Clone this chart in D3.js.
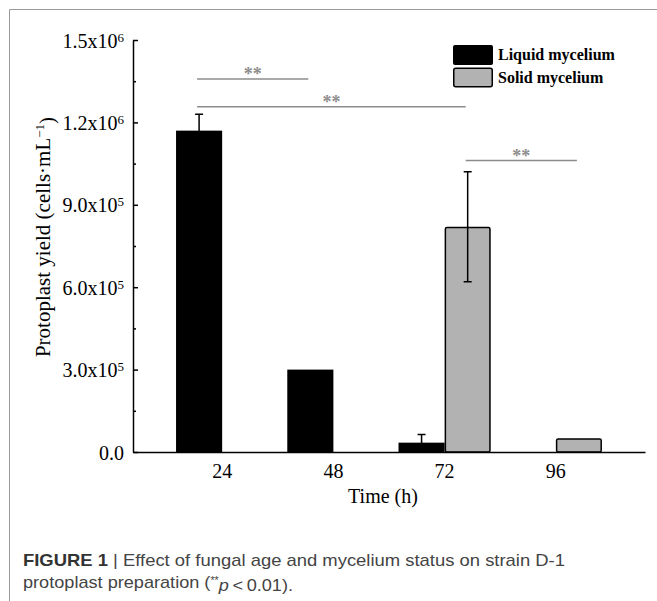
<!DOCTYPE html>
<html>
<head>
<meta charset="utf-8">
<script src="https://cdn.jsdelivr.net/npm/d3@7"></script>
<style>
  body { margin: 0; background: #fff; }
  svg { display: block; }
</style>
</head>
<body>
<svg id="chart"></svg>
<script>
// data
let times = ['24', '48', '72', '96'];
let seriesNames = ['Liquid mycelium', 'Solid mycelium'];
let liquidYield = [1.17e6, 3.0e5, 3.4e4, 0];
let liquidErr = [6.0e4, 0, 3.0e4, 0];
let solidYield = [0, 0, 8.2e5, 5.0e4];
let solidErr = [0, 0, 2.0e5, 0];
let yTicks = [0, 3e5, 6e5, 9e5, 1.2e6, 1.5e6];
let yTickLabels = [['0.0', ''], ['3.0x10', '5'], ['6.0x10', '5'], ['9.0x10', '5'], ['1.2x10', '6'], ['1.5x10', '6']];
// significance brackets: [from time, from series, to time, to series, height]
let sigPairs = [
    ['24', 0, '48', 0, 1.358e6],
    ['24', 0, '72', 1, 1.257e6],
    ['72', 1, '96', 1, 1.061e6]
];

let width = 657, height = 601;
let margin = {top: 40, right: 12, bottom: 149, left: 133};
let serif = '"Liberation Serif", "Times New Roman", serif';

let svg = d3.select('#chart').attr('width', width).attr('height', height);
svg.append('rect').attr('width', width).attr('height', height).style('fill', '#fff');

// frame of the figure panel
svg.append('path').attr('d', 'M9.5,' + height + 'V9.5H' + width)
    .style('fill', 'none').style('stroke', '#9a9a9a').style('stroke-width', 1);

let plotW = width - margin.left - margin.right;
let plotH = height - margin.top - margin.bottom;

let chartData = [];
times.forEach((t, i) => {
    chartData.push({time: t, series: 0, value: liquidYield[i], err: liquidErr[i]});
    chartData.push({time: t, series: 1, value: solidYield[i], err: solidErr[i]});
});

// scales
let xScale = d3.scaleBand().domain(times).range([0, plotW]).paddingInner(0.171).paddingOuter(0.387);
let xSub = d3.scaleBand().domain([0, 1]).range([0, xScale.bandwidth()]);
let yScale = d3.scaleLinear().domain([0, 1.5e6]).range([plotH, 0]);

let g = svg.append('g').attr('transform', 'translate(' + margin.left + ',' + margin.top + ')');

// bars
g.selectAll('.bar').data(chartData.filter(d => d.value > 0)).enter().append('rect')
    .attr('class', 'bar')
    .attr('x', d => xScale(d.time) + xSub(d.series) + (d.series ? 0.75 : 0))
    .attr('y', d => yScale(d.value) + (d.series ? 0.75 : 0))
    .attr('width', d => xSub.bandwidth() - (d.series ? 1.5 : 0))
    .attr('height', d => plotH - yScale(d.value) - (d.series ? 0.75 : 0))
    .attr('rx', d => d.series ? 1.5 : 0)
    .style('fill', d => d.series ? '#b2b2b2' : '#000')
    .style('stroke', d => d.series ? '#000' : 'none')
    .style('stroke-width', 1.5);

// error bars
let errData = chartData.filter(d => d.err > 0);
let cx = d => xScale(d.time) + xSub(d.series) + xSub.bandwidth() / 2;
g.selectAll('.err').data(errData).enter().append('path')
    .attr('class', 'err')
    .attr('d', d => {
        let x = cx(d), y1 = yScale(d.value + d.err), y0 = yScale(Math.max(0, d.value - d.err));
        return 'M' + x + ',' + y0 + 'V' + y1 + 'M' + (x - 4) + ',' + y1 + 'H' + (x + 4)
            + 'M' + (x - 4) + ',' + y0 + 'H' + (x + 4);
    })
    .style('fill', 'none').style('stroke', '#000').style('stroke-width', 1.5);

// y axis, ticks pointing inward
let yAxis = g.append('g')
    .call(d3.axisLeft(yScale).tickValues(yTicks).tickSizeInner(-5).tickSizeOuter(0).tickPadding(9).tickFormat(() => ''));
g.append('g')
    .call(d3.axisLeft(yScale).tickValues(d3.range(1.5e5, 1.5e6, 3e5)).tickSizeInner(-3).tickSizeOuter(0).tickFormat(''))
    .select('.domain').remove();
yAxis.selectAll('.tick text').each(function(d, i) {
    let t = d3.select(this).attr('dy', '0.35em');
    let lab = yTickLabels[i];
    if (lab[1]) {
        t.append('tspan').text(lab[0]);
        t.append('tspan').attr('dy', '-0.45em').style('font-size', '13px').text(lab[1]);
    } else {
        t.text(lab[0]);
    }
});

// x axis
let xAxis = g.append('g').attr('transform', 'translate(0,' + plotH + ')')
    .call(d3.axisBottom(xScale).tickSize(0).tickPadding(12));

g.selectAll('.domain').style('stroke', '#000').style('stroke-width', 1.5);
g.selectAll('.tick line').style('stroke', '#000').style('stroke-width', 1.5);
g.selectAll('.tick text').style('font-family', serif).style('font-size', '20px').style('fill', '#000');

// significance brackets
let sig = g.selectAll('.sig').data(sigPairs).enter().append('g').attr('class', 'sig');
let sx = (t, s) => xScale(t) + xSub(s) + xSub.bandwidth() / 2 - 2;
sig.append('line')
    .attr('x1', d => sx(d[0], d[1]))
    .attr('x2', d => sx(d[2], d[3]))
    .attr('y1', d => yScale(d[4])).attr('y2', d => yScale(d[4]))
    .style('stroke', '#8c8c8c').style('stroke-width', 1.5);
sig.append('text')
    .attr('x', d => (sx(d[0], d[1]) + sx(d[2], d[3])) / 2)
    .attr('y', d => yScale(d[4]) + 1)
    .attr('text-anchor', 'middle')
    .style('font-family', serif).style('font-size', '18px').style('font-weight', 'bold')
    .style('fill', '#8c8c8c')
    .text('**');

// axis titles
svg.append('text')
    .attr('transform', 'translate(50,237) rotate(-90)')
    .attr('text-anchor', 'middle')
    .style('font-family', serif).style('font-size', '21px')
    .call(t => {
        t.append('tspan').text('Protoplast yield (cells·mL');
        t.append('tspan').attr('dy', '-0.45em').style('font-size', '13px').text('−1');
        t.append('tspan').attr('dy', '0.45em').text(')');
    });

svg.append('text')
    .attr('x', 383).attr('y', 503)
    .attr('text-anchor', 'middle')
    .style('font-family', serif).style('font-size', '20px')
    .text('Time (h)');

// legend
let legend = svg.selectAll('.legend').data(seriesNames).enter().append('g')
    .attr('class', 'legend')
    .attr('transform', (d, i) => 'translate(453,' + (45 + i * 22.5) + ')');
legend.append('rect')
    .attr('x', (d, i) => i ? 0.75 : 0).attr('y', (d, i) => i ? 0.75 : 0)
    .attr('width', (d, i) => i ? 38.5 : 40).attr('height', (d, i) => i ? 18.5 : 20)
    .attr('rx', 2)
    .style('fill', (d, i) => i ? '#b2b2b2' : '#000')
    .style('stroke', '#000').style('stroke-width', (d, i) => i ? 1.5 : 0);
legend.append('text')
    .attr('x', 45).attr('y', 15)
    .style('font-family', serif).style('font-size', '16px').style('font-weight', 'bold')
    .text(d => d);

// caption
let sans = '"Liberation Sans", Arial, sans-serif';
let cap1 = svg.append('text').attr('x', 23).attr('y', 566)
    .attr('textLength', 542).attr('lengthAdjust', 'spacingAndGlyphs')
    .style('font-family', sans).style('font-size', '17px').style('fill', '#444');
cap1.append('tspan').style('font-weight', 'bold').style('fill', '#333').text('FIGURE 1');
cap1.append('tspan').text('  |  Effect of fungal age and mycelium status on strain D-1');

let cap2 = svg.append('text').attr('x', 23).attr('y', 588)
    .attr('textLength', 270).attr('lengthAdjust', 'spacingAndGlyphs')
    .style('font-family', sans).style('font-size', '17px').style('fill', '#444');
cap2.append('tspan').text('protoplast preparation (');
cap2.append('tspan').attr('dy', '-0.4em').style('font-size', '10px').text('**');
cap2.append('tspan').attr('dy', '0.4em').style('font-style', 'italic').text('p');
cap2.append('tspan').text('\u2009<\u20090.01).');
</script>
</body>
</html>
